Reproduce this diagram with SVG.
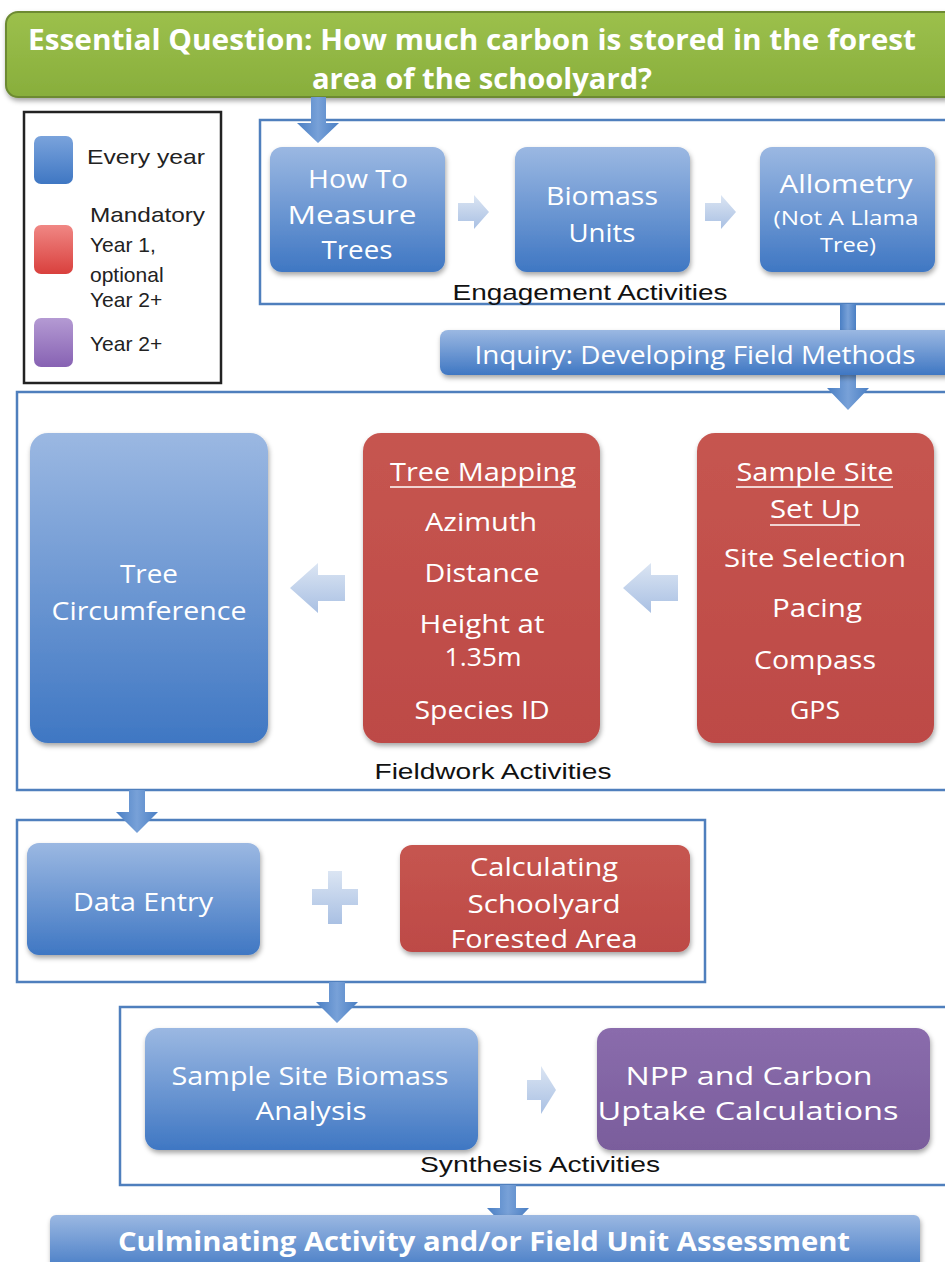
<svg xmlns="http://www.w3.org/2000/svg" width="945" height="1262" viewBox="0 0 945 1262">
<defs>
<linearGradient id="gBlue" x1="0" y1="0" x2="0" y2="1"><stop offset="0" stop-color="#9bb8e2"/><stop offset="1" stop-color="#3f77c3"/></linearGradient>
<linearGradient id="gRed" x1="0" y1="0" x2="0" y2="1"><stop offset="0" stop-color="#c65550"/><stop offset="1" stop-color="#bd4a46"/></linearGradient>
<linearGradient id="gPurple" x1="0" y1="0" x2="0" y2="1"><stop offset="0" stop-color="#8a6cac"/><stop offset="1" stop-color="#7a5d9c"/></linearGradient>
<linearGradient id="gGreen" x1="0" y1="0" x2="0" y2="1"><stop offset="0" stop-color="#9cc04c"/><stop offset="1" stop-color="#88ae3c"/></linearGradient>
<linearGradient id="gLight" x1="0" y1="0" x2="0" y2="1"><stop offset="0" stop-color="#dbe5f3"/><stop offset="1" stop-color="#a9c0e3"/></linearGradient>
<linearGradient id="gConn" x1="0" y1="0" x2="1" y2="0"><stop offset="0" stop-color="#4a7fc4"/><stop offset="0.5" stop-color="#78a1d8"/><stop offset="1" stop-color="#4a7fc4"/></linearGradient>
<linearGradient id="gSwBlue" x1="0" y1="0" x2="0" y2="1"><stop offset="0" stop-color="#7aa3dc"/><stop offset="1" stop-color="#3f77c3"/></linearGradient>
<linearGradient id="gSwRed" x1="0" y1="0" x2="0" y2="1"><stop offset="0" stop-color="#f08784"/><stop offset="1" stop-color="#d9403d"/></linearGradient>
<linearGradient id="gSwPurple" x1="0" y1="0" x2="0" y2="1"><stop offset="0" stop-color="#b49ad3"/><stop offset="1" stop-color="#8762b3"/></linearGradient>
<filter id="sh" x="-10%" y="-10%" width="125%" height="130%"><feDropShadow dx="1" dy="3" stdDeviation="2.5" flood-color="#000" flood-opacity="0.35"/></filter>
<style>
.frame{fill:none;stroke:#4f7fbd;stroke-width:2.5}
.lt{font-family:"Open Sans","Noto Sans",sans-serif;fill:#ffffff;text-anchor:middle;dominant-baseline:central}
.lab{font-family:"Liberation Sans",Arial,sans-serif;fill:#111;font-size:22px;text-anchor:middle}
.leg{font-family:"Liberation Sans",Arial,sans-serif;fill:#222;font-size:21px}
.blue{fill:url(#gBlue)}
.red{fill:url(#gRed)}
.purple{fill:url(#gPurple)}
.light{fill:url(#gLight)}
.conn{fill:url(#gConn)}
</style>
</defs>
<rect width="945" height="1262" fill="#ffffff"/>

<!-- Essential question -->
<g id="question">
<rect x="6" y="12" width="960" height="85" rx="12" fill="url(#gGreen)" stroke="#6d8a32" stroke-width="2" filter="url(#sh)"/>
<text class="lt" x="472" y="39" font-size="28" font-weight="bold" textLength="888" lengthAdjust="spacingAndGlyphs">Essential Question: How much carbon is stored in the forest</text>
<text class="lt" x="482" y="78" font-size="28" font-weight="bold" textLength="340" lengthAdjust="spacingAndGlyphs">area of the schoolyard?</text>
</g>

<!-- Legend -->
<g id="legend">
<rect x="24" y="112" width="197" height="271" fill="#fff" stroke="#222" stroke-width="2.5"/>
<rect x="34" y="136" width="39" height="48" rx="7" fill="url(#gSwBlue)"/>
<rect x="34" y="225" width="39" height="49" rx="7" fill="url(#gSwRed)"/>
<rect x="34" y="318" width="39" height="49" rx="7" fill="url(#gSwPurple)"/>
<text class="leg" x="87" y="164" textLength="118" lengthAdjust="spacingAndGlyphs">Every year</text>
<text class="leg" x="90" y="222" textLength="115" lengthAdjust="spacingAndGlyphs">Mandatory</text>
<text class="leg" x="90" y="252">Year 1,</text>
<text class="leg" x="90" y="282">optional</text>
<text class="leg" x="90" y="307">Year 2+</text>
<text class="leg" x="90" y="351">Year 2+</text>
</g>

<!-- Group frames -->
<g id="engagement-frame">
<rect class="frame" x="260" y="120" width="700" height="184"/>
<text class="lab" x="590" y="300" textLength="275" lengthAdjust="spacingAndGlyphs">Engagement Activities</text>
</g>
<g id="fieldwork-frame">
<rect class="frame" x="17" y="392" width="945" height="398"/>
<text class="lab" x="493" y="779" textLength="237" lengthAdjust="spacingAndGlyphs">Fieldwork Activities</text>
</g>
<g id="data-frame">
<rect class="frame" x="17" y="820" width="688" height="162"/>
</g>
<g id="synthesis-frame">
<rect class="frame" x="120" y="1007" width="840" height="178"/>
<text class="lab" x="540" y="1172" textLength="240" lengthAdjust="spacingAndGlyphs">Synthesis Activities</text>
</g>

<!-- Connectors -->
<g id="connectors">
<path class="conn" d="M311 97 H326 V123 H339 L318 143 L297 123 H311 Z"/>
<rect class="conn" x="840" y="304" width="16" height="28"/>
<path class="conn" d="M840 374 H856 V388 H869 L848 410 L827 388 H840 Z"/>
<path class="conn" d="M129 790 H145 V812 H158 L137 833 L116 812 H129 Z"/>
<path class="conn" d="M329 982 H345 V1002 H358 L337 1023 L316 1002 H329 Z"/>
<path class="conn" d="M500 1185 H516 V1208 H529 L508 1230 L487 1208 H500 Z"/>
<!-- light block arrows -->
<path class="light" d="M458 203 H474 V195 L489 212 L474 229 V221 H458 Z"/>
<path class="light" d="M705 203 H721 V195 L736 212 L721 229 V221 H705 Z"/>
<path class="light" d="M345 575 H318 V563 L290 588 L318 613 V601 H345 Z"/>
<path class="light" d="M678 575 H651 V563 L623 588 L651 613 V601 H678 Z"/>
<path class="light" d="M312 889 H328 V871 H342 V889 H358 V905 H342 V924 H328 V905 H312 Z"/>
<path class="light" d="M527 1080 H541 V1066 L556 1090 L541 1114 V1100 H527 Z"/>
</g>

<!-- Engagement nodes -->
<g id="how-to-measure">
<rect class="blue" x="270" y="147" width="175" height="125" rx="12" filter="url(#sh)"/>
<text class="lt" x="358" y="178" font-size="26" textLength="100" lengthAdjust="spacingAndGlyphs">How To</text>
<text class="lt" x="352" y="214" font-size="26" textLength="129" lengthAdjust="spacingAndGlyphs">Measure</text>
<text class="lt" x="357" y="249" font-size="26" textLength="71" lengthAdjust="spacingAndGlyphs">Trees</text>
</g>
<g id="biomass-units">
<rect class="blue" x="515" y="147" width="175" height="125" rx="12" filter="url(#sh)"/>
<text class="lt" x="602" y="195" font-size="26" textLength="112" lengthAdjust="spacingAndGlyphs">Biomass</text>
<text class="lt" x="602" y="232" font-size="26" textLength="67" lengthAdjust="spacingAndGlyphs">Units</text>
</g>
<g id="allometry">
<rect class="blue" x="760" y="147" width="175" height="125" rx="12" filter="url(#sh)"/>
<text class="lt" x="846" y="183" font-size="26" textLength="133" lengthAdjust="spacingAndGlyphs">Allometry</text>
<text class="lt" x="846" y="217" font-size="20" textLength="145" lengthAdjust="spacingAndGlyphs">(Not A Llama</text>
<text class="lt" x="848" y="244" font-size="20" textLength="56" lengthAdjust="spacingAndGlyphs">Tree)</text>
</g>

<g id="inquiry">
<rect class="blue" x="440" y="330" width="520" height="45" rx="8" filter="url(#sh)"/>
<text class="lt" x="695" y="354" font-size="25" textLength="441" lengthAdjust="spacingAndGlyphs">Inquiry: Developing Field Methods</text>
</g>

<!-- Fieldwork nodes -->
<g id="tree-circumference">
<rect class="blue" x="30" y="433" width="238" height="310" rx="18" filter="url(#sh)"/>
<text class="lt" x="149" y="573" font-size="26" textLength="58" lengthAdjust="spacingAndGlyphs">Tree</text>
<text class="lt" x="149" y="610" font-size="26" textLength="195" lengthAdjust="spacingAndGlyphs">Circumference</text>
</g>
<g id="tree-mapping">
<rect class="red" x="363" y="433" width="237" height="310" rx="18" filter="url(#sh)"/>
<text class="lt" x="483" y="471" font-size="26" textLength="186" lengthAdjust="spacingAndGlyphs">Tree Mapping</text>
<line x1="390" y1="487" x2="576" y2="487" stroke="#fff" stroke-width="1.5"/>
<text class="lt" x="481" y="521" font-size="26" textLength="112" lengthAdjust="spacingAndGlyphs">Azimuth</text>
<text class="lt" x="482" y="572" font-size="26" textLength="115" lengthAdjust="spacingAndGlyphs">Distance</text>
<text class="lt" x="482" y="623" font-size="26" textLength="125" lengthAdjust="spacingAndGlyphs">Height at</text>
<text class="lt" x="483" y="656" font-size="26" textLength="77" lengthAdjust="spacingAndGlyphs">1.35m</text>
<text class="lt" x="482" y="709" font-size="26" textLength="135" lengthAdjust="spacingAndGlyphs">Species ID</text>
</g>
<g id="sample-site-setup">
<rect class="red" x="697" y="433" width="237" height="310" rx="18" filter="url(#sh)"/>
<text class="lt" x="815" y="471" font-size="26" textLength="157" lengthAdjust="spacingAndGlyphs">Sample Site</text>
<line x1="736" y1="487" x2="893" y2="487" stroke="#fff" stroke-width="1.5"/>
<text class="lt" x="815" y="508" font-size="26" textLength="90" lengthAdjust="spacingAndGlyphs">Set Up</text>
<line x1="770" y1="525" x2="860" y2="525" stroke="#fff" stroke-width="1.5"/>
<text class="lt" x="815" y="557" font-size="26" textLength="182" lengthAdjust="spacingAndGlyphs">Site Selection</text>
<text class="lt" x="817" y="607" font-size="26" textLength="90" lengthAdjust="spacingAndGlyphs">Pacing</text>
<text class="lt" x="815" y="659" font-size="26" textLength="122" lengthAdjust="spacingAndGlyphs">Compass</text>
<text class="lt" x="815" y="709" font-size="26" textLength="50" lengthAdjust="spacingAndGlyphs">GPS</text>
</g>

<!-- Data nodes -->
<g id="data-entry">
<rect class="blue" x="27" y="843" width="233" height="112" rx="12" filter="url(#sh)"/>
<text class="lt" x="143" y="901" font-size="26" textLength="140" lengthAdjust="spacingAndGlyphs">Data Entry</text>
</g>
<g id="calculating-area">
<rect class="red" x="400" y="845" width="290" height="107" rx="12" filter="url(#sh)"/>
<text class="lt" x="544" y="866" font-size="26" textLength="148" lengthAdjust="spacingAndGlyphs">Calculating</text>
<text class="lt" x="544" y="903" font-size="26" textLength="153" lengthAdjust="spacingAndGlyphs">Schoolyard</text>
<text class="lt" x="544" y="938" font-size="26" textLength="187" lengthAdjust="spacingAndGlyphs">Forested Area</text>
</g>

<!-- Synthesis nodes -->
<g id="sample-site-biomass">
<rect class="blue" x="145" y="1028" width="333" height="122" rx="14" filter="url(#sh)"/>
<text class="lt" x="310" y="1075" font-size="26" textLength="277" lengthAdjust="spacingAndGlyphs">Sample Site Biomass</text>
<text class="lt" x="311" y="1110" font-size="26" textLength="111" lengthAdjust="spacingAndGlyphs">Analysis</text>
</g>
<g id="npp-carbon">
<rect class="purple" x="597" y="1028" width="333" height="122" rx="14" filter="url(#sh)"/>
<text class="lt" x="749" y="1075" font-size="26" textLength="247" lengthAdjust="spacingAndGlyphs">NPP and Carbon</text>
<text class="lt" x="748" y="1110" font-size="26" textLength="301" lengthAdjust="spacingAndGlyphs">Uptake Calculations</text>
</g>

<g id="culminating">
<rect class="blue" x="50" y="1215" width="870" height="60" rx="6" filter="url(#sh)"/>
<text class="lt" x="484" y="1241" font-size="26" font-weight="bold" textLength="732" lengthAdjust="spacingAndGlyphs">Culminating Activity and/or Field Unit Assessment</text>
</g>
</svg>
